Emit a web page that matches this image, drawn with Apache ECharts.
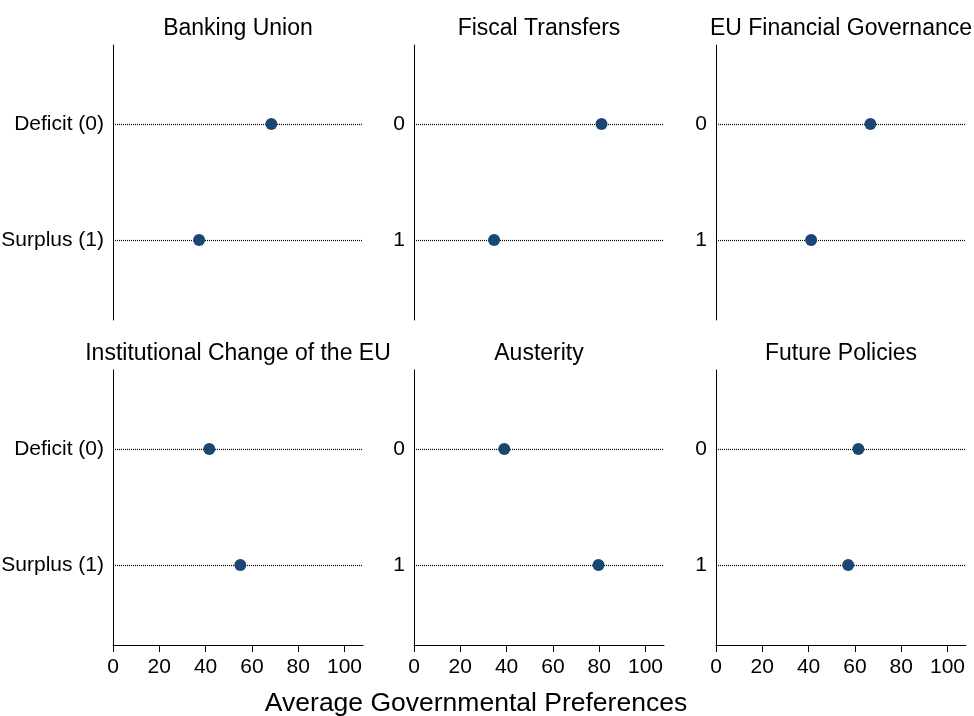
<!DOCTYPE html>
<html><head><meta charset="utf-8">
<script src="https://cdn.jsdelivr.net/npm/echarts@6/dist/echarts.min.js"></script>
<style>html,body{margin:0;padding:0;background:#fff}#c{width:974px;height:716px}</style>
</head><body><div id="c"></div>
<script>
const panelTitles = ['Banking Union','Fiscal Transfers','EU Financial Governance','Institutional Change of the EU','Austerity','Future Policies'];
const deficitValues = [68.4, 81.0, 66.7, 41.6, 39.0, 61.5];
const surplusValues = [37.2, 34.6, 41.1, 55.0, 79.7, 57.1];
const rowLabelsFirst = ['Deficit (0)', 'Surplus (1)'];
const rowLabelsOther = ['0', '1'];
const xTicks = [0, 20, 40, 60, 80, 100];
const xAxisTitle = 'Average Governmental Preferences';

const FONT = '"Liberation Sans", Arial, Helvetica, sans-serif';
const lefts = [113, 414, 716];
const tops = [45, 370];
const W = 250, H = 275;
const chart = echarts.init(document.getElementById('c'));
const grids = [], xAxes = [], yAxes = [], series = [], graphics = [];
for (let i = 0; i < 6; i++) {
  const col = i % 3, row = Math.floor(i / 3);
  grids.push({left: lefts[col], top: tops[row], width: W, height: H, containLabel: false, outerBoundsMode: 'none'});
  const bottomRow = row === 1;
  xAxes.push({
    type: 'value', gridIndex: i, min: 0, max: 108, interval: 20,
    axisLine: {show: bottomRow, onZero: false, lineStyle: {color: '#000', width: 1}},
    axisTick: {show: bottomRow, length: 7, lineStyle: {color: '#000'}, customValues: xTicks},
    axisLabel: {show: bottomRow, customValues: xTicks, color: '#000', fontSize: 21, fontFamily: FONT, margin: 12},
    splitLine: {show: false}
  });
  const labels = col === 0 ? rowLabelsFirst : rowLabelsOther;
  yAxes.push({
    type: 'value', gridIndex: i, min: -0.68, max: 1.69, inverse: true,
    axisLine: {show: true, onZero: false, lineStyle: {color: '#000', width: 1}},
    axisTick: {show: false},
    axisLabel: {customValues: [0, 1], formatter: v => labels[Math.round(v)], color: '#000', fontSize: 21, fontFamily: FONT, margin: 9},
    splitLine: {show: false}
  });
  series.push({
    type: 'scatter', xAxisIndex: i, yAxisIndex: i,
    data: [[deficitValues[i], 0], [surplusValues[i], 1]],
    symbolSize: 12,
    itemStyle: {color: '#1a4772', opacity: 1},
    z: 5,
    markLine: {
      silent: true, symbol: ['none', 'none'], label: {show: false},
      lineStyle: {color: '#000', type: [1, 1], width: 1.2, opacity: 1},
      data: [{yAxis: 0}, {yAxis: 1}]
    }
  });
}
for (let i = 0; i < 6; i++) {
  const col = i % 3, row = Math.floor(i / 3);
  graphics.push({
    type: 'text', x: lefts[col] + W / 2, y: tops[row] - 16,
    style: {text: panelTitles[i], fontSize: 23, fontFamily: FONT, fill: '#000', align: 'center', verticalAlign: 'middle'}
  });
}
graphics.push({
  type: 'text', x: 476, y: 704,
  style: {text: xAxisTitle, fontSize: 26.5, fontFamily: FONT, fill: '#000', align: 'center', verticalAlign: 'middle'}
});
chart.setOption({
  animation: false,
  backgroundColor: '#fff',
  grid: grids, xAxis: xAxes, yAxis: yAxes, series: series, graphic: graphics
});
</script></body></html>
